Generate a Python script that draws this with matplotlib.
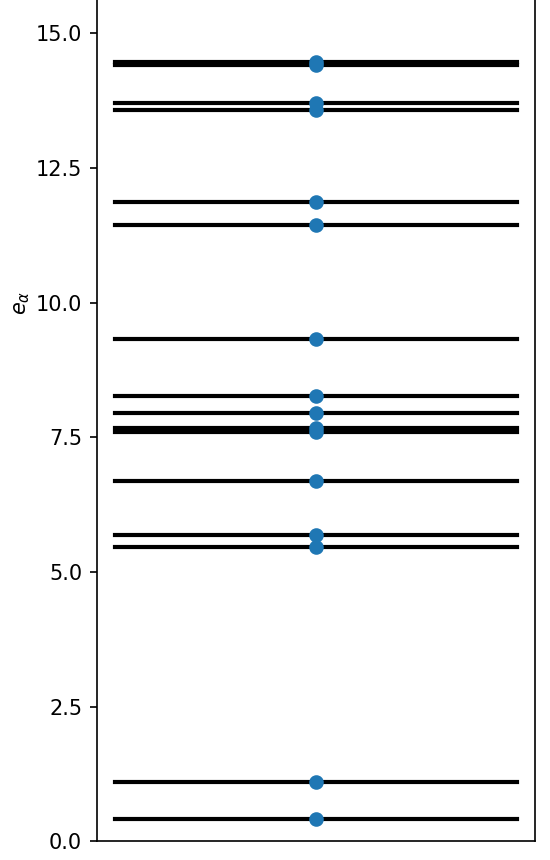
import matplotlib
matplotlib.use("Agg")
import matplotlib.pyplot as plt
import numpy as np

# energy levels
levels = [0.41, 1.095, 5.46, 5.68, 6.69, 7.60, 7.67, 7.96, 8.27,
          9.32, 11.44, 11.86, 13.57, 13.70, 14.42, 14.465]
x_left = 0.0
x_right = 1.0
x_mid = 0.5
yticks = [0.0, 2.5, 5.0, 7.5, 10.0, 12.5, 15.0]

fig = plt.figure(figsize=(550/150, 860/150), dpi=150)
# axes reaches above the figure edge, as in the cropped original
ax = fig.add_axes([0.176, 0.0217, 0.797, 20*53.87/860])

for e in levels:
    ax.plot([x_left, x_right], [e, e], "k", lw=2)
ax.plot([x_mid]*len(levels), levels, "o", color="C0")

ax.set_xlim(-0.046, 1.046)
ax.set_ylim(0, 20)
ax.set_xticks([])
ax.set_yticks(yticks)
ax.set_ylabel(r"$e_\alpha$", labelpad=2)

plt.savefig("out.png", dpi=150)
